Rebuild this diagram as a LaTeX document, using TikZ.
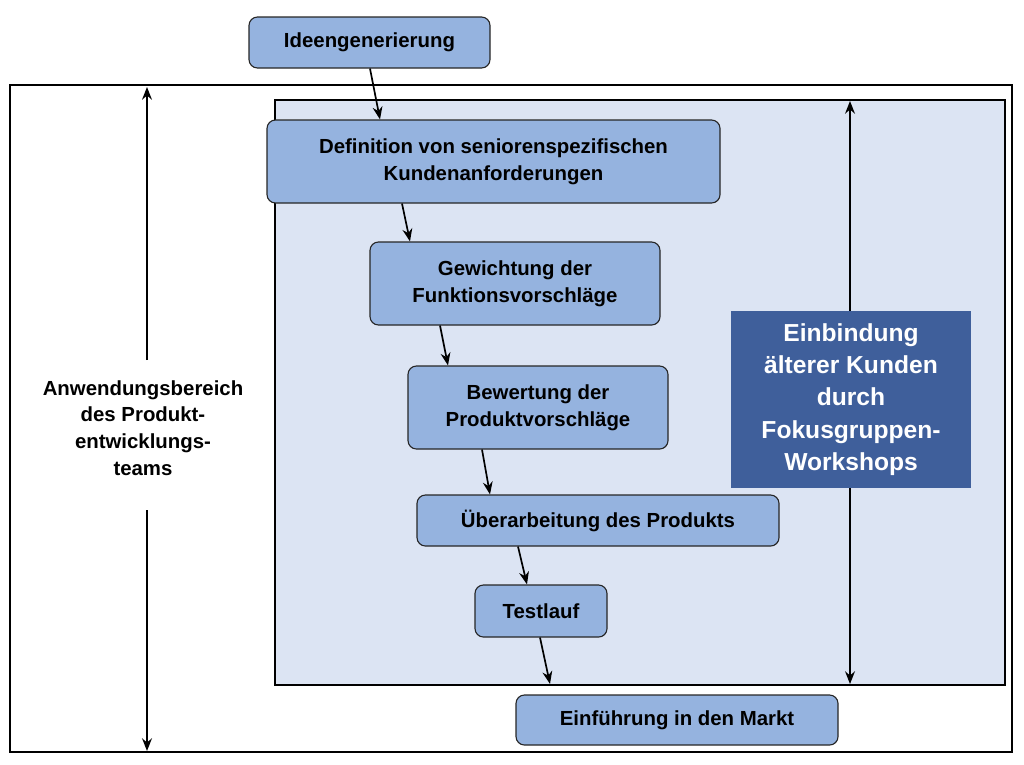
\documentclass[tikz,border=0pt]{standalone}
\usepackage{fontspec}
\setmainfont{Liberation Sans}
\usetikzlibrary{positioning, arrows.meta}
\definecolor{stepblue}{HTML}{95B3DF}
\definecolor{areablue}{HTML}{DCE4F3}
\definecolor{darkblue}{HTML}{3F5F9B}
\tikzset{
proc/.style={draw=black!85, thick, rounded corners=6pt, fill=stepblue, align=center, font=\fontsize{14.5}{19}\selectfont\bfseries, inner sep=0pt}, % process steps
flow/.style={-{Stealth[length=9pt,width=7pt]}, very thick}, % arrows between steps
}
\begin{document}
\begin{tikzpicture}[x=0.25mm, y=-0.25mm]
\useasboundingbox (0,0) rectangle (1024,764);
\draw[thick] (10,85) rectangle (1012,752);
\draw[thick, fill=areablue] (275,100) rectangle (1005,685);
% steps
\node[proc, minimum width=60.25mm, minimum height=12.75mm] (idee) at (369.5,42.5) {Ideengenerierung};
\node[proc, minimum width=113.25mm, minimum height=20.75mm] (def) at (493.5,161.5) {Definition von seniorenspezifischen\\Kundenanforderungen};
\node[proc, minimum width=72.5mm, minimum height=20.75mm] (gew) at (515,283.5) {Gewichtung der\\Funktionsvorschläge};
\node[proc, minimum width=65mm, minimum height=20.75mm] (bew) at (538,407.5) {Bewertung der\\Produktvorschläge};
\node[proc, minimum width=90.5mm, minimum height=12.75mm] (ueb) at (598,520.5) {Überarbeitung des Produkts};
\node[proc, minimum width=33mm, minimum height=13mm] (test) at (541,611) {Testlauf};
\node[proc, minimum width=80.5mm, minimum height=12.5mm] (markt) at (677,720) {Einführung in den Markt};
\node[fill=darkblue, text=white, align=center, minimum width=60mm, minimum height=44.25mm, inner sep=0pt,
  font=\fontsize{17.5}{23}\selectfont\bfseries] (fokus) at (851,399.5) {Einbindung\\älterer Kunden\\durch\\Fokusgruppen-\\Workshops};
\node[align=center, font=\fontsize{14.5}{19}\selectfont\bfseries] (team) at (143,428) {Anwendungsbereich\\des Produkt-\\entwicklungs-\\teams};
% connectors
\coordinate (end) at (550,684);
\coordinate (topL) at (147,87);
\coordinate (botL) at (147,751);
\coordinate (topR) at (850,101);
\coordinate (botR) at (850,684);
\draw[flow] (idee.south -| 370,0) -- (def.north -| 380,0);
\draw[flow] (def.south -| 402,0) -- (gew.north -| 410,0);
\draw[flow] (gew.south -| 440,0) -- (bew.north -| 448,0);
\draw[flow] (bew.south -| 482,0) -- (ueb.north -| 490,0);
\draw[flow] (ueb.south -| 518,0) -- (test.north -| 527,0);
\draw[flow] (test.south -| 540,0) -- (end);
\draw[flow] (147,360) -- (topL);
\draw[flow] (147,510) -- (botL);
\draw[flow] (fokus.north -| topR) -- (topR);
\draw[flow] (fokus.south -| botR) -- (botR);
\end{tikzpicture}
\end{document}
